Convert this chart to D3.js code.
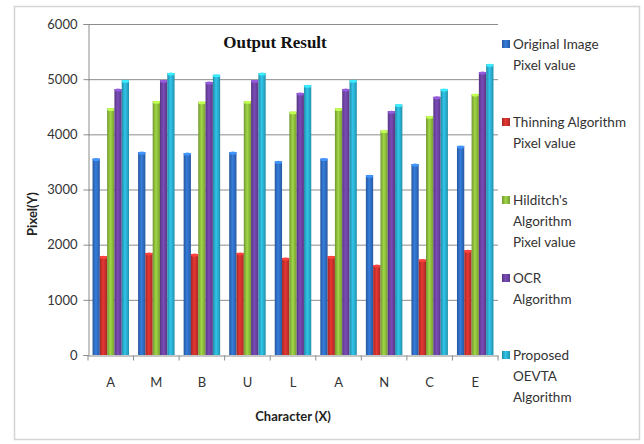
<!DOCTYPE html>
<html><head><meta charset="utf-8">
<script src="https://cdn.jsdelivr.net/npm/d3@7"></script>
<style>body{margin:0;background:#fff}</style>
</head><body><svg id="c" width="644" height="444"></svg>
<script>
const categories = ["A","M","B","U","L","A","N","C","E"];
const seriesNames = [["Original Image","Pixel value"],["Thinning Algorithm","Pixel value"],["Hilditch's","Algorithm","Pixel value"],["OCR","Algorithm"],["Proposed","OEVTA","Algorithm"]];
const original = [3560,3680,3660,3680,3510,3560,3260,3460,3790];
const thinning = [1790,1850,1830,1850,1760,1790,1630,1730,1900];
const hilditch = [4470,4600,4590,4600,4410,4470,4070,4330,4730];
const ocr      = [4820,4980,4950,4980,4750,4820,4420,4680,5130];
const oevta    = [4980,5110,5080,5110,4890,4980,4540,4820,5270];
const yTicks = [0,1000,2000,3000,4000,5000,6000];
const colors = ["#2f6cc0","#c8302c","#8cba3c","#6b42a0","#2aaccc"];
const series = [original,thinning,hilditch,ocr,oevta];

const svg = d3.select("#c");
svg.append("rect").attr("x",14.5).attr("y",6.5).attr("width",625).attr("height",433)
  .attr("fill","#fff").attr("stroke","#d4d4d4").attr("stroke-width",1.5);

const L=88,R=498,T=24,B=355;
const x = d3.scaleBand().domain(d3.range(categories.length)).range([L,R]).paddingInner(0).paddingOuter(0);
const y = d3.scaleLinear().domain([0,6000]).range([B,T]);
const xs = d3.scaleBand().domain(d3.range(5)).range([0,x.bandwidth()]).paddingOuter(0.62).paddingInner(0);

const defs = svg.append("defs");
colors.forEach((c,i)=>{
  const g = defs.append("linearGradient").attr("id","g"+i).attr("x1",0).attr("x2",1).attr("y1",0).attr("y2",0);
  const cc = d3.color(c);
  g.append("stop").attr("offset","0%").attr("stop-color",cc.darker(0.6));
  g.append("stop").attr("offset","45%").attr("stop-color",cc.brighter(0.4));
  g.append("stop").attr("offset","100%").attr("stop-color",cc.darker(0.5));
});

// gridlines
svg.append("g").selectAll("line").data(yTicks.filter(d=>d>0)).join("line")
  .attr("x1",L).attr("x2",R).attr("y1",d=>y(d)+0.5).attr("y2",d=>y(d)+0.5)
  .attr("stroke","#8c8c8c").attr("stroke-width",1);

// y axis
const ya = svg.append("g").attr("transform",`translate(${L+0.5},0)`)
  .call(d3.axisLeft(y).tickValues(yTicks).tickSize(5).tickPadding(6).tickFormat(d3.format("d")));
ya.select(".domain").attr("stroke","#8c8c8c");
ya.selectAll(".tick line").attr("stroke","#8c8c8c");
ya.selectAll("text").attr("font-family","Lato, 'Open Sans', sans-serif").attr("font-size",13).attr("fill","#333");

// x axis
const xa = svg.append("g").attr("transform",`translate(0,${B+0.5})`)
  .call(d3.axisBottom(x).tickFormat(i=>categories[i]).tickSize(0).tickPadding(22));
xa.select(".domain").attr("stroke","#8c8c8c");
xa.selectAll("text").attr("font-family","Lato, 'Open Sans', sans-serif").attr("font-size",13).attr("fill","#333");
xa.selectAll(".bound").data(d3.range(categories.length+1)).join("line")
  .attr("x1",i=>L+i*x.bandwidth()).attr("x2",i=>L+i*x.bandwidth()).attr("y1",0).attr("y2",5).attr("stroke","#8c8c8c");

// bars
series.forEach((vals,si)=>{
  const g = svg.append("g");
  g.selectAll("rect").data(vals).join("rect")
    .attr("x",(d,i)=>x(i)+xs(si)).attr("width",xs.bandwidth())
    .attr("y",d=>y(d)).attr("height",d=>B-y(d))
    .attr("fill",`url(#g${si})`);
  g.selectAll("ellipse").data(vals).join("ellipse")
    .attr("cx",(d,i)=>x(i)+xs(si)+xs.bandwidth()/2).attr("cy",d=>y(d)+1)
    .attr("rx",xs.bandwidth()/2).attr("ry",1.5)
    .attr("fill",d3.color(colors[si]).brighter(0.9));
});

// title
svg.append("text").attr("x",275).attr("y",48).attr("text-anchor","middle")
  .attr("font-family","'Liberation Serif', serif").attr("font-weight","bold").attr("font-size",17)
  .attr("fill","#111").text("Output Result");

// axis titles
svg.append("text").attr("transform","translate(37,214) rotate(-90)").attr("text-anchor","middle")
  .attr("font-family","Lato, 'Open Sans', sans-serif").attr("font-weight","bold").attr("font-size",13)
  .attr("fill","#222").text("Pixel(Y)");
svg.append("text").attr("x",293).attr("y",421).attr("text-anchor","middle")
  .attr("font-family","Lato, 'Open Sans', sans-serif").attr("font-weight","bold").attr("font-size",13)
  .attr("fill","#222").text("Character (X)");

// legend
const legY = [49,127,205,283,360];
seriesNames.forEach((lines,i)=>{
  const g = svg.append("g");
  g.append("rect").attr("x",502).attr("y",legY[i]-9).attr("width",8).attr("height",8)
    .attr("fill",`url(#g${i})`);
  lines.forEach((t,j)=>{
    g.append("text").attr("x",513).attr("y",legY[i]+j*21)
      .attr("font-family","Lato, 'Open Sans', sans-serif").attr("font-size",13.5).attr("fill","#333").text(t);
  });
});
</script></body></html>
